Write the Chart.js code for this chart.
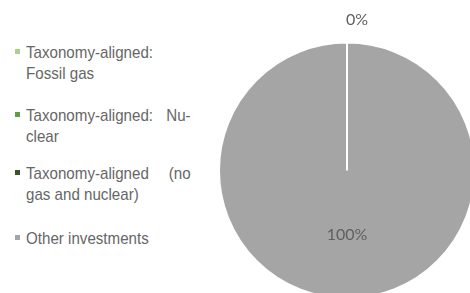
<!DOCTYPE html>
<html>
<head>
<meta charset="utf-8">
<script src="https://cdn.jsdelivr.net/npm/chart.js@4"></script>
<style>
  html, body { margin: 0; padding: 0; background: #fff; }
  body { width: 470px; height: 293px; overflow: hidden; position: relative; }
  #leyenda { position: absolute; left: 0; top: 0; font-family: 'Liberation Sans', Arial, sans-serif; font-size: 17px; color: #666; }
  .item { position: absolute; left: 15px; width: 240px; }
  .marca { position: absolute; left: 0; top: 7px; width: 5px; height: 5px; }
  .texto { position: absolute; left: 11px; top: 0; width: 185px; transform: scaleX(0.89); transform-origin: 0 0; }
  .linea { line-height: 21px; white-space: nowrap; }
  .linea.just { display: flex; justify-content: space-between; }
  #grafico { position: absolute; left: 218px; top: 0; }
</style>
</head>
<body>
<div id="leyenda"></div>
<canvas id="grafico" width="258" height="300"></canvas>
<script>
// datos
const categorias = ['Taxonomy-aligned: Fossil gas', 'Taxonomy-aligned: Nuclear', 'Taxonomy-aligned (no gas and nuclear)', 'Other investments'];
const lineasLeyenda = [
  ['Taxonomy-aligned:', 'Fossil gas'],
  ['Taxonomy-aligned: Nu-', 'clear'],
  ['Taxonomy-aligned (no', 'gas and nuclear)'],
  ['Other investments']
];
const valores = [0, 0, 0, 100];
const colores = ['#a9d18e', '#5f9e45', '#375623', '#a5a5a5'];
const posLeyenda = [42, 105, 163, 228];

// leyenda en html (el texto va cortado en dos lineas, la primera justificada)
const leyendaDiv = document.getElementById('leyenda');
lineasLeyenda.forEach((lineas, i) => {
  const item = document.createElement('div');
  item.className = 'item';
  item.style.top = posLeyenda[i] + 'px';
  let html = `<div class="marca" style="background:${colores[i]}"></div><div class="texto">`;
  lineas.forEach((t, j) => {
    if (j < lineas.length - 1 && t.includes(' ')) {
      html += '<div class="linea just">' + t.split(' ').map(w => `<span>${w}</span>`).join('') + '</div>';
    } else {
      html += `<div class="linea">${t}</div>`;
    }
  });
  html += '</div>';
  item.innerHTML = html;
  leyendaDiv.appendChild(item);
});

// etiquetas de porcentaje sobre el pie
const etiquetasPie = {
  id: 'etiquetasPie',
  afterDatasetsDraw(chart) {
    const ctx = chart.ctx;
    const meta = chart.getDatasetMeta(0);
    let ceroHecho = false;
    ctx.save();
    ctx.font = '16px Lato, sans-serif';
    ctx.fillStyle = '#5f5f5f';
    ctx.textBaseline = 'middle';
    meta.data.forEach((arco, i) => {
      const v = chart.data.datasets[0].data[i];
      const p = arco.getProps(['x', 'y', 'startAngle', 'endAngle', 'outerRadius']);
      if (v === 0) {
        if (ceroHecho) return;
        ceroHecho = true;
        const r = p.outerRadius + 22;
        ctx.textAlign = 'left';
        ctx.fillText(v + '%', p.x + Math.cos(p.startAngle) * r - 1, p.y + Math.sin(p.startAngle) * r - 1);
      } else {
        const a = (p.startAngle + p.endAngle) / 2;
        const r = p.outerRadius * 0.5;
        ctx.textAlign = 'center';
        ctx.fillText(v + '%', p.x + Math.cos(a) * r, p.y + Math.sin(a) * r);
      }
    });
    ctx.restore();
  }
};

const ctx = document.getElementById('grafico').getContext('2d');
const grafico = new Chart(ctx, {
  type: 'pie',
  data: {
    labels: categorias,
    datasets: [{
      data: valores,
      backgroundColor: colores,
      borderColor: '#fff',
      borderWidth: 2
    }]
  },
  options: {
    responsive: false,
    animation: false,
    layout: { padding: { top: 41 } },
    plugins: {
      legend: { display: false },
      tooltip: { enabled: false }
    }
  },
  plugins: [etiquetasPie]
});
</script>
</body>
</html>
